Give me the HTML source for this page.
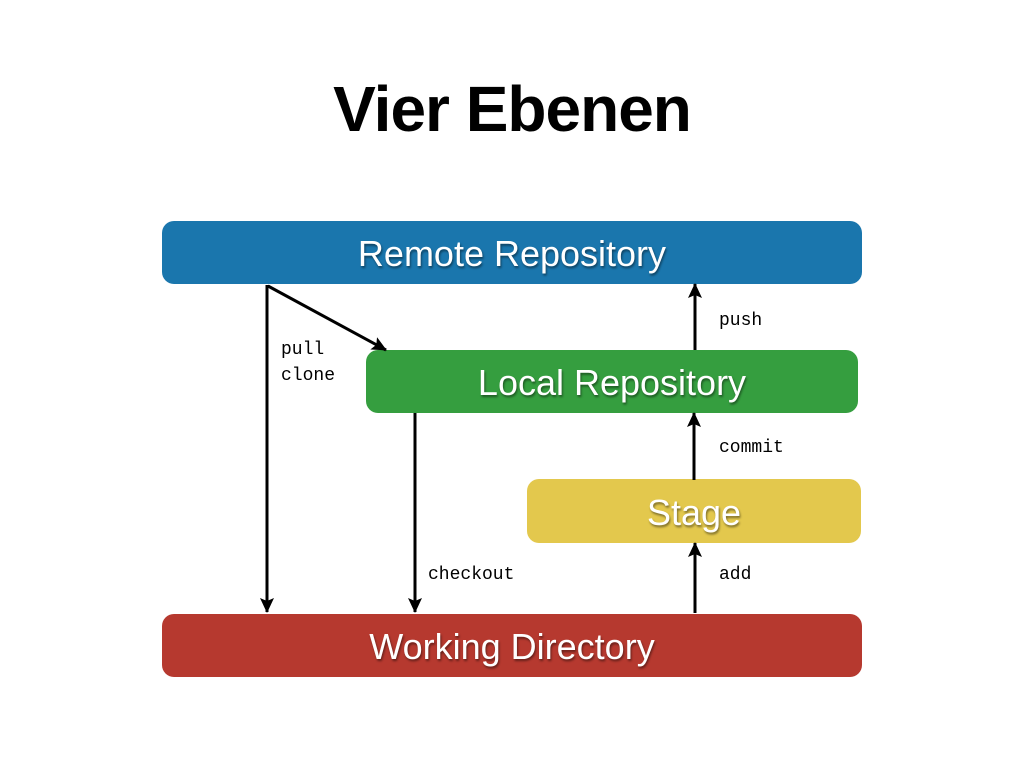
<!DOCTYPE html>
<html><head><style>
body{margin:0;width:1024px;height:768px;background:#fff;overflow:hidden;position:relative;font-family:"Liberation Sans",sans-serif}
.t{position:absolute;left:0;width:1024px;top:72px;text-align:center;font-weight:bold;font-size:64px;color:#000;letter-spacing:-1px}
.b{position:absolute;border-radius:12px;color:#fff;font-size:36px;display:flex;align-items:center;justify-content:center;text-shadow:1px 2px 2px rgba(0,0,0,.45);padding-top:3px;box-sizing:border-box}
.m{position:absolute;font-family:"Liberation Mono",monospace;font-size:18px;color:#000;line-height:26px}
</style></head><body>
<div class="t">Vier Ebenen</div>
<div class="b" style="left:162px;top:221px;width:700px;height:63px;background:#1a76ad">Remote Repository</div>
<div class="b" style="left:366px;top:350px;width:492px;height:63px;background:#359e3f">Local Repository</div>
<div class="b" style="left:527px;top:479px;width:334px;height:64px;background:#e3c84d">Stage</div>
<div class="b" style="left:162px;top:614px;width:700px;height:63px;background:#b6392f">Working Directory</div>
<svg width="1024" height="768" style="position:absolute;left:0;top:0">
<defs><marker id="a" markerWidth="16" markerHeight="14" refX="14" refY="7" orient="auto" markerUnits="userSpaceOnUse"><path d="M0,0 L15,7 L0,14 L3,7 z" fill="#000"/></marker></defs>
<g stroke="#000" stroke-width="3" fill="none" marker-end="url(#a)">
<line x1="267" y1="285" x2="267" y2="612"/>
<line x1="268" y1="286" x2="386" y2="350"/>
<line x1="415" y1="413" x2="415" y2="612"/>
<line x1="695" y1="350" x2="695" y2="284"/>
<line x1="694" y1="480" x2="694" y2="413"/>
<line x1="695" y1="613" x2="695" y2="543"/>
</g></svg>
<div class="m" style="left:281px;top:337px">pull<br>clone</div>
<div class="m" style="left:719px;top:308px">push</div>
<div class="m" style="left:719px;top:435px">commit</div>
<div class="m" style="left:428px;top:562px">checkout</div>
<div class="m" style="left:719px;top:562px">add</div>
</body></html>
